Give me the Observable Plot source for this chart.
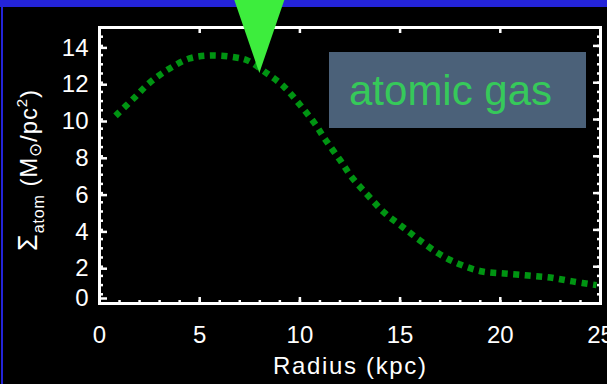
<!DOCTYPE html>
<html>
<head>
<meta charset="utf-8">
<script src="https://cdn.jsdelivr.net/npm/d3@7"></script>
<script src="https://cdn.jsdelivr.net/npm/@observablehq/plot@0.6"></script>
<style>
  html, body { margin: 0; padding: 0; background: #000; }
  #wrap { position: relative; width: 607px; height: 384px; overflow: hidden; background: #000; }
  #topbar { position: absolute; left: 0; top: 0; width: 607px; height: 7px; background: #2424d8; }
  #leftbar { position: absolute; left: 1px; top: 0; width: 2px; height: 384px; background: #2424d8; }
  #chart { position: absolute; left: 0; top: 0; }
  #chart svg { display: block; }
</style>
</head>
<body>
<div id="wrap">
  <div id="topbar"></div>
  <div id="leftbar"></div>
  <div id="chart"></div>
</div>
<script>
// ---- data ----
const radius = [0.8, 1.7, 2.5, 3.5, 4.5, 5.6, 6.8, 7.4, 8.3, 9.2, 10.0, 10.7, 11.3, 12.0, 12.6, 13.4, 14.2, 15.1, 16.0, 17.0, 18.0, 19.1, 20.2, 21.4, 22.5, 23.6, 24.8];
const sigmaAtom = [10.2, 11.14, 12.0, 12.77, 13.32, 13.48, 13.37, 13.2, 12.55, 11.79, 10.8, 9.84, 8.86, 7.8, 6.85, 5.87, 4.95, 4.18, 3.42, 2.66, 2.12, 1.74, 1.63, 1.52, 1.41, 1.2, 1.0];

const xTicks = [0, 5, 10, 15, 20, 25];
const xMinorTicks = d3.range(0, 26, 1);
const yTicks = [0, 2, 4, 6, 8, 10, 12, 14];
const yMinorTicks = d3.range(0, 15.01, 0.5);

const xTitle = "Radius (kpc)";
const annotationText = "atomic gas";
const sunRadius = 8;        // marker arrow points at R = 8 kpc
const sunMarkerSigma = 12.5;

const rows = radius.map((r, i) => ({r, s: sigmaAtom[i]}));

const blank = () => "";
const tickColor = "white";
const font = "'Liberation Sans', Arial, sans-serif";

const plot = Plot.plot({
  width: 607,
  height: 384,
  marginLeft: 99,
  marginRight: 7,
  marginTop: 27,
  marginBottom: 81,
  style: {background: "transparent", color: "white", fontFamily: font, fontSize: "24px"},
  x: {domain: [0, 25]},
  y: {domain: [0, 15]},
  marks: [
    Plot.line(rows, {x: "r", y: "s", curve: "catmull-rom", stroke: "#009412", strokeWidth: 6.5, strokeDasharray: "6 5.5", strokeLinecap: "butt"}),
    // minor ticks
    Plot.axisX({anchor: "bottom", ticks: xMinorTicks, tickSize: -3, tickFormat: blank, label: null, stroke: tickColor, strokeWidth: 2.5}),
    Plot.axisY({anchor: "left", ticks: yMinorTicks, tickSize: -4, tickFormat: blank, label: null, stroke: tickColor, strokeWidth: 2.5}),
    Plot.axisY({anchor: "right", ticks: yMinorTicks, tickSize: -4, tickFormat: blank, label: null, stroke: tickColor, strokeWidth: 2.5}),
    // major ticks + labels
    Plot.axisX({anchor: "bottom", ticks: xTicks, tickSize: -6, tickPadding: 28, tickFormat: d => String(d), label: null, stroke: tickColor, strokeWidth: 2.5, fill: "white", fontSize: 24}),
    Plot.axisX({anchor: "top", ticks: xTicks, tickSize: -5, tickFormat: blank, label: null, stroke: tickColor, strokeWidth: 2.5}),
    Plot.axisY({anchor: "left", ticks: yTicks.filter(d => d !== 0), tickSize: -8, tickPadding: 19, tickFormat: d => String(d), label: null, stroke: tickColor, strokeWidth: 2.5, fill: "white", fontSize: 24, dy: 2}),
    Plot.axisY({anchor: "left", ticks: yTicks.filter(d => d === 0), tickSize: -8, tickPadding: 19, tickFormat: d => String(d), label: null, stroke: tickColor, strokeWidth: 2.5, fill: "white", fontSize: 24, dy: -5}),
    Plot.axisY({anchor: "right", ticks: yTicks, tickSize: -8, tickFormat: blank, label: null, stroke: tickColor, strokeWidth: 2.5}),
    Plot.frame({stroke: "white", strokeWidth: 3})
  ]
});

document.getElementById("chart").appendChild(plot);

const svg = d3.select(plot);
const sx = plot.scale("x"), sy = plot.scale("y");
const [x0, x1] = sx.range;
const [yb, yt] = sy.range;

// x axis title
svg.append("text")
  .attr("x", (x0 + x1) / 2)
  .attr("y", yb + 71)
  .attr("text-anchor", "middle")
  .attr("fill", "white")
  .attr("font-family", font)
  .attr("font-size", 24)
  .attr("textLength", 153)
  .attr("lengthAdjust", "spacing")
  .text(xTitle);

// y axis title with sub/superscripts
const yTitle = svg.append("text")
  .attr("transform", `translate(37,${(yb + yt) / 2 + 5}) rotate(-90)`)
  .attr("text-anchor", "middle")
  .attr("fill", "white")
  .attr("font-family", font)
  .attr("font-size", 24)
  .attr("letter-spacing", "0.9px");
yTitle.append("tspan").attr("font-size", 27).text("Σ");
yTitle.append("tspan").attr("font-size", 16).attr("dy", 7).text("atom");
yTitle.append("tspan").attr("dy", -7).text(" (M");
yTitle.append("tspan").attr("font-size", 17).attr("dy", 4).text("⊙");
yTitle.append("tspan").attr("dy", -4).text("/pc");
yTitle.append("tspan").attr("font-size", 15).attr("dy", -10).text("2");
yTitle.append("tspan").attr("dy", 10).text(")");

// annotation box
svg.append("rect")
  .attr("x", 329).attr("y", 52).attr("width", 257).attr("height", 76)
  .attr("fill", "#4b6179");
svg.append("text")
  .attr("x", 349).attr("y", 105)
  .attr("text-anchor", "start")
  .attr("fill", "#36c95a")
  .attr("font-family", font)
  .attr("font-size", 42)
  .text(annotationText);

// marker arrow pointing at the solar radius
const tipX = sx.apply(sunRadius), tipY = sy.apply(sunMarkerSigma);
svg.append("polygon")
  .attr("points", `${tipX - 25},0 ${tipX + 25},0 ${tipX},${tipY}`)
  .attr("fill", "#3ded3d");
</script>
</body>
</html>
